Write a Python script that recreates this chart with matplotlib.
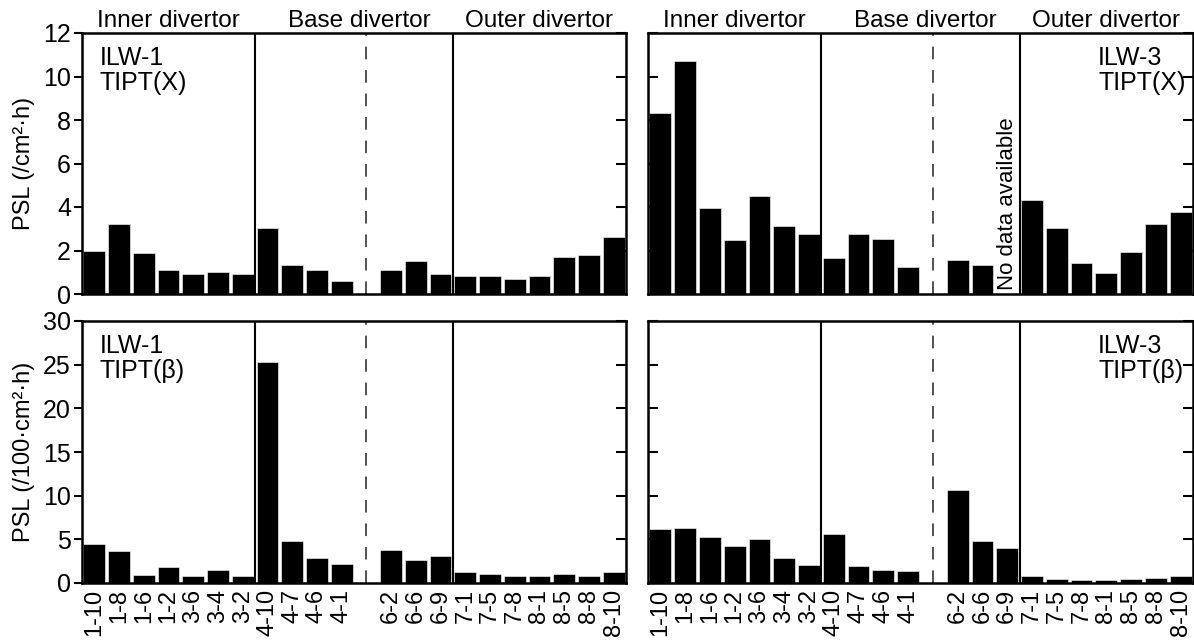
import numpy as np
import matplotlib
matplotlib.use('Agg')
import matplotlib.pyplot as plt

plt.rcParams['font.family'] = ['Liberation Sans', 'DejaVu Sans']
plt.rcParams['font.size'] = 17

# tile positions (a gap is left between 4-1 and 6-2)
tiles = ['1-10', '1-8', '1-6', '1-2', '3-6', '3-4', '3-2',
         '4-10', '4-7', '4-6', '4-1',
         '6-2', '6-6', '6-9',
         '7-1', '7-5', '7-8', '8-1', '8-5', '8-8', '8-10']

# PSL per cm2 per hour, TIPT(X)
ilw1_x = [2.0, 3.2, 1.9, 1.1, 0.9, 1.03, 0.9,
          3.02, 1.32, 1.1, 0.6,
          1.1, 1.5, 0.92,
          0.81, 0.81, 0.7, 0.81, 1.72, 1.79, 2.6]
ilw3_x = [8.32, 10.73, 3.94, 2.48, 4.52, 3.13, 2.74,
          1.65, 2.74, 2.53, 1.24,
          1.55, 1.33, np.nan,
          4.34, 3.05, 1.44, 0.95, 1.93, 3.23, 3.77]

# PSL per 100 cm2 per hour, TIPT(beta)
ilw1_b = [4.43, 3.63, 0.88, 1.79, 0.76, 1.45, 0.76,
          25.3, 4.8, 2.82, 2.14,
          3.74, 2.6, 3.09,
          1.22, 0.99, 0.76, 0.76, 0.99, 0.76, 1.22]
ilw3_b = [6.15, 6.26, 5.31, 4.27, 5.04, 2.86, 2.02,
          5.57, 1.98, 1.53, 1.34,
          10.7, 4.8, 3.97,
          0.76, 0.46, 0.38, 0.38, 0.46, 0.53, 0.76]

sections = ['Inner divertor', 'Base divertor', 'Outer divertor']

x = np.array(list(range(11)) + list(range(12, 22)))

fig = plt.figure(figsize=(11.94, 6.44), dpi=100)
W, H = 1194, 644
def box(l, r, t, b):
    return [l / W, 1 - b / H, (r - l) / W, (b - t) / H]

ax_tl = fig.add_axes(box(82, 626, 33, 294))
ax_tr = fig.add_axes(box(648, 1193, 33, 294))
ax_bl = fig.add_axes(box(82, 626, 321, 583))
ax_br = fig.add_axes(box(648, 1193, 321, 583))

panels = [(ax_tl, ilw1_x, 'ILW-1\nTIPT(X)', 12, 2),
          (ax_tr, ilw3_x, 'ILW-3\nTIPT(X)', 12, 2),
          (ax_bl, ilw1_b, 'ILW-1\nTIPT(\u03b2)', 30, 5),
          (ax_br, ilw3_b, 'ILW-3\nTIPT(\u03b2)', 30, 5)]

for i, (ax, vals, name, ymax, step) in enumerate(panels):
    ax.bar(x, vals, width=0.88, color='black', edgecolor='white', linewidth=0.4)
    ax.set_xlim(-0.5, 21.5)
    ax.set_ylim(0, ymax)
    ax.set_yticks(np.arange(0, ymax + 1, step))
    ax.axvline(6.5, color='black', lw=1.5)
    ax.axvline(14.5, color='black', lw=1.5)
    ax.axvline(11, color='#444444', lw=1.3, dashes=(7, 6))
    for s in ax.spines.values():
        s.set_linewidth(1.8)
    right = i % 2 == 1
    if right:
        ax.tick_params(axis='y', which='both', direction='in', left=True, right=True,
                       labelleft=False, length=7, width=1.5)
        ax.text(0.826, 0.95, name, transform=ax.transAxes, ha='left', va='top',
                fontsize=18, linespacing=1.05)
    else:
        ax.tick_params(axis='y', which='both', direction='out', left=True,
                       length=6, width=1.5, labelsize=18, pad=2)
        ax.tick_params(axis='y', which='both', right=True)
        ax.text(0.033, 0.95, name, transform=ax.transAxes, ha='left', va='top',
                fontsize=18, linespacing=1.05)
    ax.set_xticks(x)
    if i >= 2:
        ax.set_xticklabels(tiles, rotation=90, fontsize=17)
        ax.tick_params(axis='x', length=0, pad=4)
    else:
        ax.set_xticklabels([])
        ax.tick_params(axis='x', length=0)
        for c, lab in zip([3, 10.7, 18], sections):
            ax.text(c, ymax * 1.005, lab, ha='center', va='bottom', fontsize=17.5)

# right-side ticks pointing inward for left panels
for ax in (ax_tl, ax_bl):
    ax.yaxis.set_tick_params(which='both', right=True)
    for t in ax.yaxis.get_major_ticks():
        t.tick2line.set_marker(matplotlib.lines.TICKLEFT)
        t.tick2line.set_markersize(7)

ax_tr.text(14, 0.2, 'No data available', rotation=90, ha='center', va='bottom',
           fontsize=16)

ax_tl.set_ylabel('PSL (/cm\u00b2\u00b7h)', fontsize=17, labelpad=6)
ax_bl.set_ylabel('PSL (/100\u00b7cm\u00b2\u00b7h)', fontsize=17, labelpad=6)

fig.savefig('out.png', dpi=100)
